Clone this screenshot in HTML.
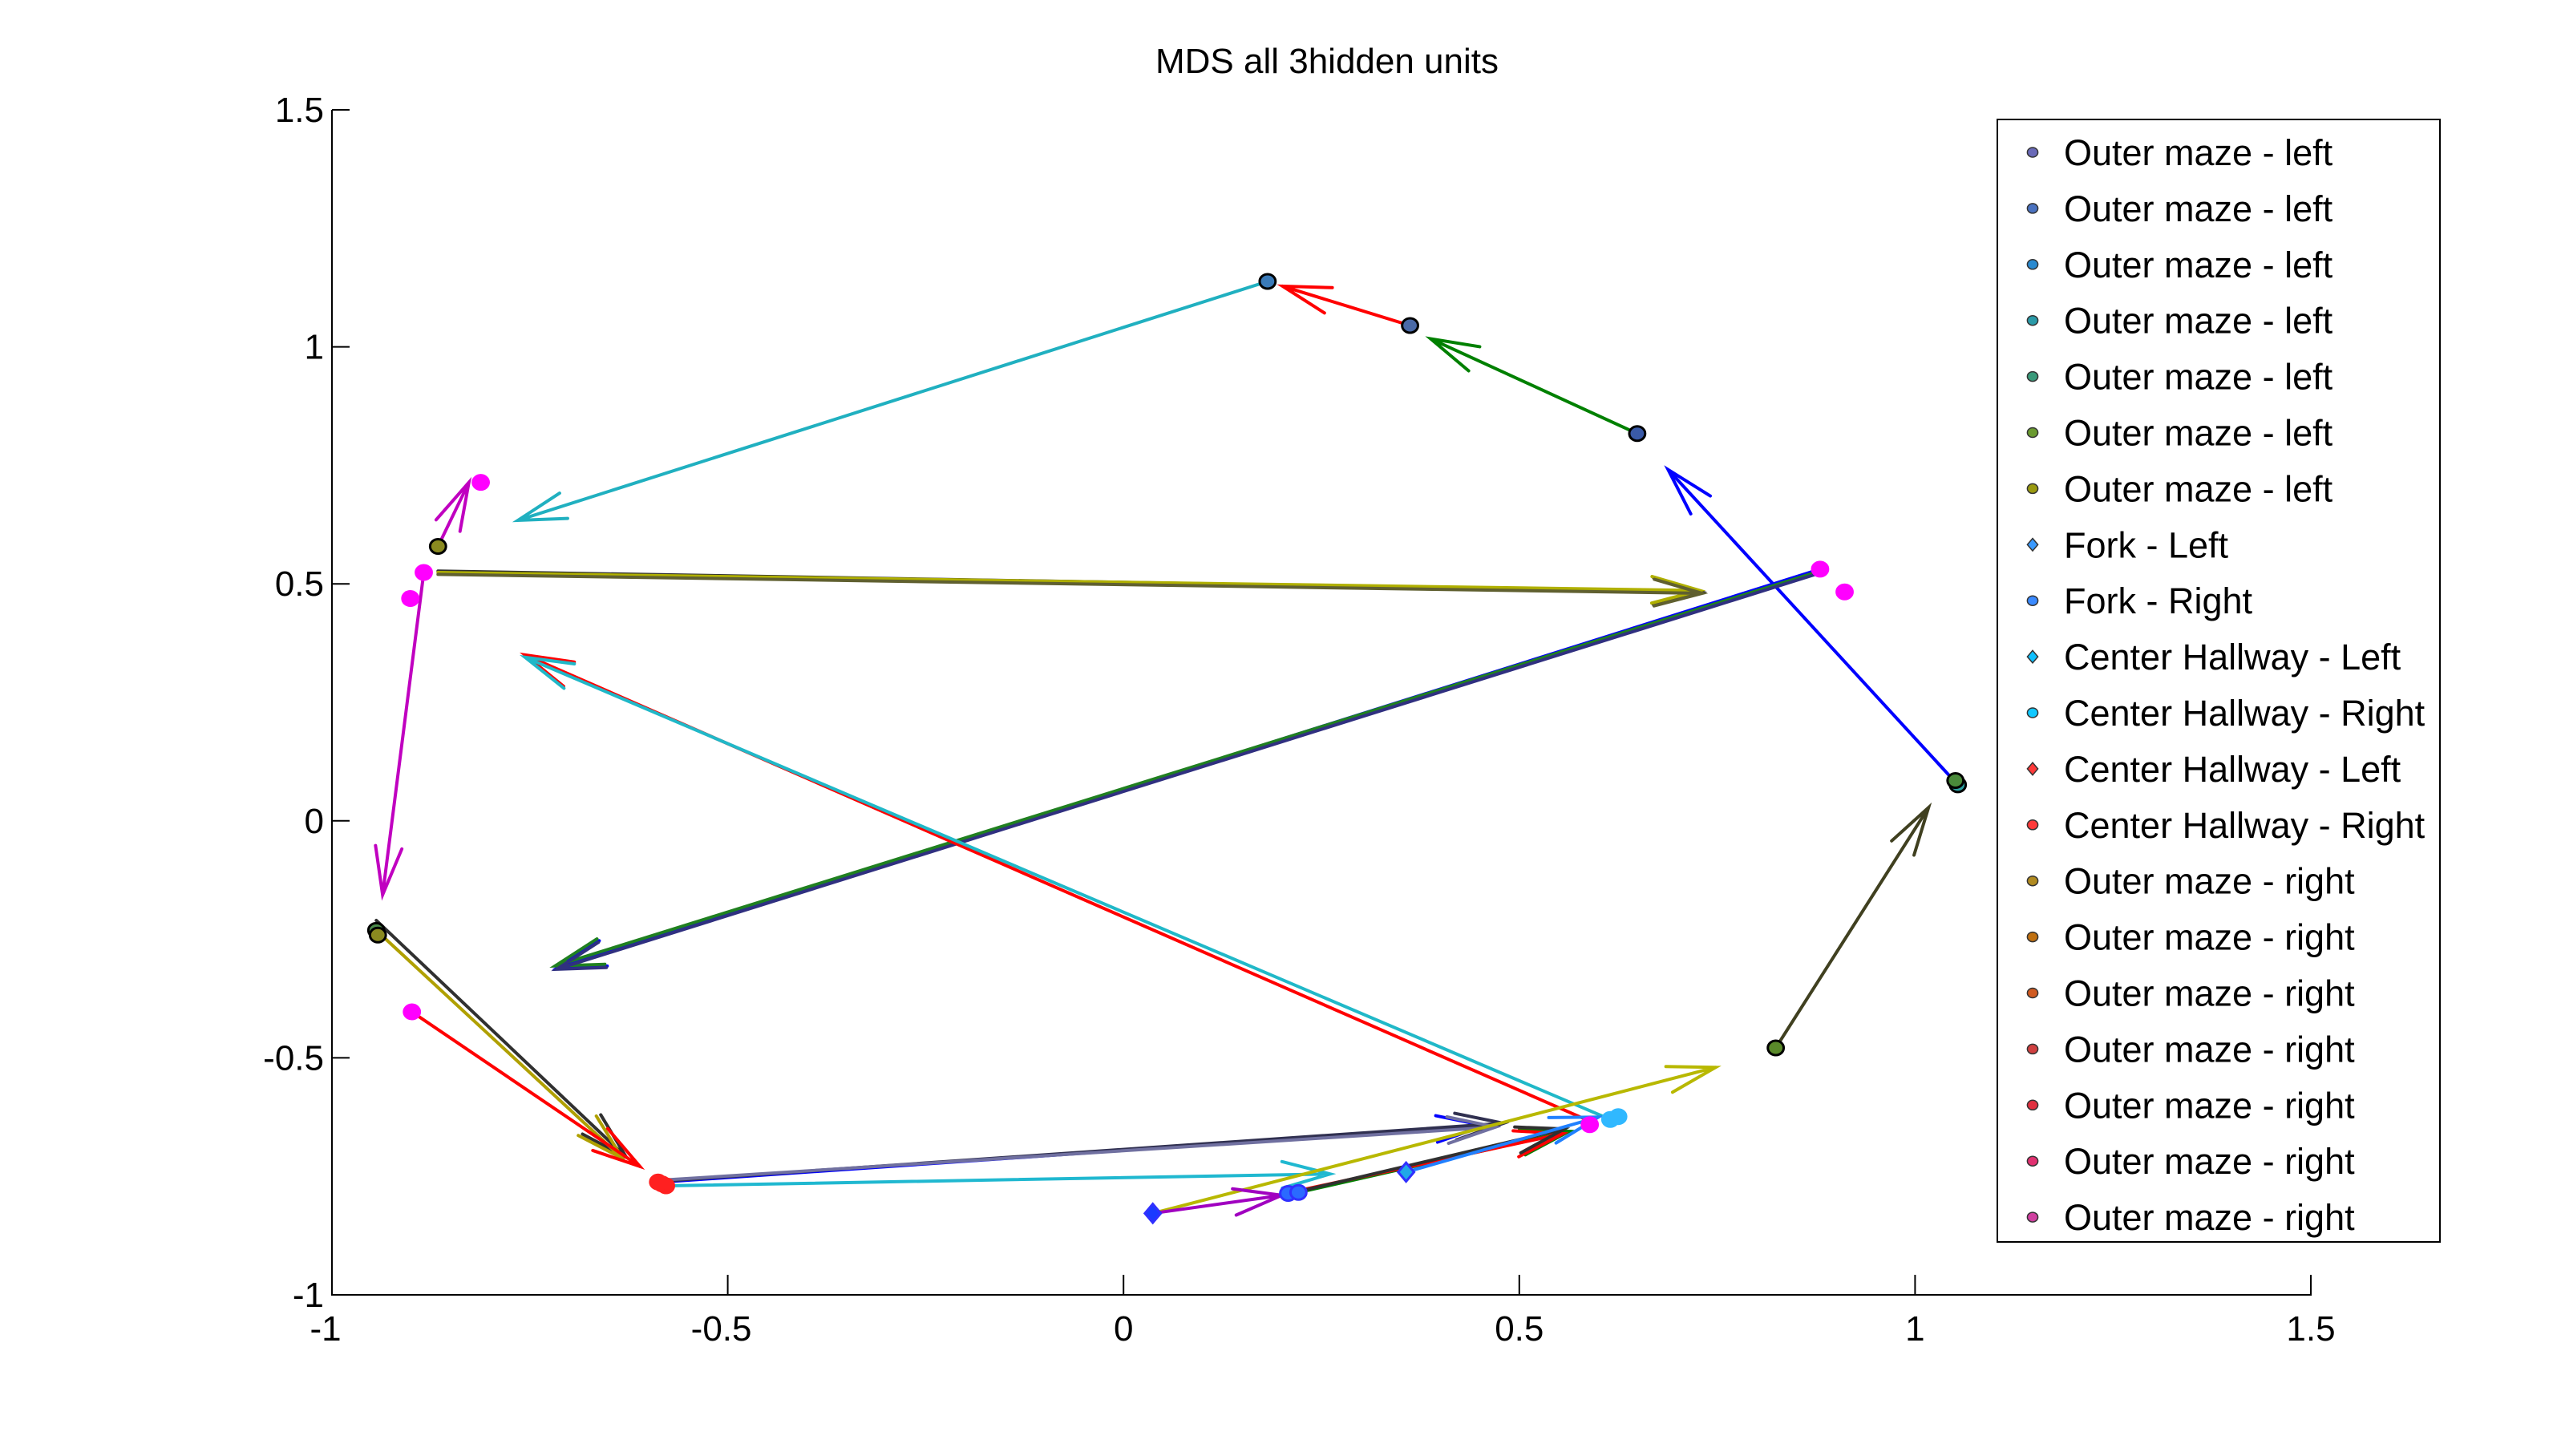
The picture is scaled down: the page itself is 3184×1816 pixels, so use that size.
<!DOCTYPE html>
<html><head><meta charset="utf-8"><style>
html,body{margin:0;padding:0;background:#fff}
svg{display:block}
text{font-family:"Liberation Sans",Arial,sans-serif;fill:#000}
</style></head><body>
<svg id="chart" width="3184" height="1816" viewBox="0 0 3184 1816" xmlns="http://www.w3.org/2000/svg">
<rect x="0" y="0" width="3184" height="1816" fill="#fff"/>
<text x="1655" y="91" font-size="44" text-anchor="middle">MDS all 3hidden units</text>
<g id="axes"></g>
<g id="arrows"></g>
<g id="points"></g>
<g id="legend"></g>
</svg>
<script>
const xTicks = [-1, -0.5, 0, 0.5, 1, 1.5];
const yTicks = [-1, -0.5, 0, 0.5, 1, 1.5];
const xTickLabels = ["-1", "-0.5", "0", "0.5", "1", "1.5"];
const yTickLabels = ["-1", "-0.5", "0", "0.5", "1", "1.5"];

const pointX = [0.182, 0.362, 0.649, 1.054, 1.051, 0.824, 0.880, 0.911, -0.866, -0.812, -0.884, -0.901, -0.944, -0.942, -0.899, -0.588, -0.578, -0.583, 0.037, 0.208, 0.221, 0.357, 0.589, 0.615, 0.625];
const pointY = [1.138, 1.045, 0.817, 0.076, 0.085, -0.479, 0.531, 0.483, 0.579, 0.714, 0.524, 0.469, -0.231, -0.241, -0.403, -0.762, -0.770, -0.766, -0.828, -0.786, -0.784, -0.741, -0.641, -0.630, -0.624];
const pointFill = ["#3a7ab8","#4a6aa8","#3a5aa8","#2aa0a0","#4a8a3a","#5a8a2a","#ff00ff","#ff00ff","#8a8a20","#ff00ff","#ff00ff","#ff00ff","#4a8a4a","#8a8a20","#ff00ff","#ff2020","#ff2020","#ff2020","#1a3aff","#2a6aff","#2a6aff","#20a8e8","#ff00ff","#30b8ff","#30b8ff"];
const pointShape = ["o","o","o","o","o","o","o","o","o","o","o","o","o","o","o","o","o","o","d","o","o","d","o","o","o"];

const arrX0 = [0.362, 0.649, 1.054, 0.824, 0.182, -0.866, -0.866, -0.866, 0.880, 0.880, 0.880, 0.595, 0.615, -0.884, -0.866, -0.944, -0.944, -0.899, -0.583, -0.583, -0.583, -0.578, 0.037, 0.037, 0.221, 0.221, 0.221, 0.357];
const arrY0 = [1.045, 0.817, 0.076, -0.479, 1.138, 0.527, 0.524, 0.520, 0.531, 0.527, 0.523, -0.638, -0.630, 0.524, 0.579, -0.210, -0.231, -0.403, -0.762, -0.760, -0.758, -0.770, -0.828, -0.828, -0.784, -0.780, -0.782, -0.741];
const arrX1 = [0.201, 0.388, 0.688, 1.017, -0.765, 0.730, 0.728, 0.731, -0.715, -0.718, -0.716, -0.756, -0.756, -0.936, -0.827, -0.628, -0.633, -0.611, 0.456, 0.480, 0.470, 0.261, 0.748, 0.200, 0.563, 0.555, 0.557, 0.600];
const arrY1 = [1.128, 1.017, 0.741, 0.028, 0.634, 0.483, 0.486, 0.480, -0.310, -0.306, -0.313, 0.350, 0.345, -0.156, 0.714, -0.710, -0.712, -0.729, -0.643, -0.638, -0.646, -0.745, -0.520, -0.790, -0.655, -0.660, -0.650, -0.625];
const arrColor = ["#ff0000","#008000","#0000ff","#404020","#20b0c0","#303030","#b0b000","#606030","#0000ff","#208020","#303080","#ff0000","#20b8c8","#c000c0","#c000c0","#303030","#b0a000","#ff0000","#0000ff","#303050","#7070a0","#20b8d0","#b8b800","#a000c0","#008000","#ff0000","#303030","#2080ff"];

const legendLabels = ["Outer maze - left","Outer maze - left","Outer maze - left","Outer maze - left","Outer maze - left","Outer maze - left","Outer maze - left","Fork - Left","Fork - Right","Center Hallway - Left","Center Hallway - Right","Center Hallway - Left","Center Hallway - Right","Outer maze - right","Outer maze - right","Outer maze - right","Outer maze - right","Outer maze - right","Outer maze - right","Outer maze - right"];
const legendColors = ["#6a6ab8","#4a72c0","#2a8ad0","#2a9aa8","#3a9a7a","#6a9a30","#9a9a10","#3a9aff","#3a8aff","#10c0ff","#10c8ff","#ff3a3a","#ff3a3a","#b08a20","#c07010","#d05a20","#d04040","#e03040","#e03070","#d040a0"];
const legendShapes = ["o","o","o","o","o","o","o","d","o","d","o","d","o","o","o","o","o","o","o","o"];

const NS = "http://www.w3.org/2000/svg";
const L = 414, R = 2882, T = 137, B = 1615;
const xMin = -1, xMax = 1.5, yMin = -1, yMax = 1.5;
function sx(v){ return L + (v - xMin) / (xMax - xMin) * (R - L); }
function sy(v){ return B - (v - yMin) / (yMax - yMin) * (B - T); }
function mk(tag, attrs, parent){ const e = document.createElementNS(NS, tag); for (const k in attrs) e.setAttribute(k, attrs[k]); parent.appendChild(e); return e; }

const axes = document.getElementById("axes");
const xAxisLine = mk("path", {d:`M${L},${T} L${L},${B} L${R},${B} L${R},${B-22}`, fill:"none", stroke:"#000", "stroke-width":2}, axes);


xTicks.forEach((v, i) => {
  const t = mk("line", {x1:sx(v), x2:sx(v), y1:B, y2:B-25, stroke:"#000", "stroke-width":2}, axes);
  
  
  const lb = mk("text", {x:sx(v) - (v < 0 ? 8 : 0), y:B+57, "font-size":44, "text-anchor":"middle"}, axes);
  lb.textContent = xTickLabels[i];
  
  
});
yTicks.forEach((v, i) => {
  const t = mk("line", {x1:L, x2:L+22, y1:sy(v), y2:sy(v), stroke:"#000", "stroke-width":2}, axes);
  
  
  const lb = mk("text", {x:L-10, y:sy(v)+15, "font-size":44, "text-anchor":"end"}, axes);
  lb.textContent = yTickLabels[i];
  
  
});

const arrows = document.getElementById("arrows");
arrX0.forEach((_, i) => {
  const x0 = sx(arrX0[i]), y0 = sy(arrY0[i]), x1 = sx(arrX1[i]), y1 = sy(arrY1[i]);
  const ang = Math.atan2(y1 - y0, x1 - x0), hl = 62, ha = 0.27;
  const ax = x1 - hl*Math.cos(ang - ha), ay = y1 - hl*Math.sin(ang - ha);
  const bx = x1 - hl*Math.cos(ang + ha), by = y1 - hl*Math.sin(ang + ha);
  const p = mk("path", {d:`M${x0},${y0} L${x1},${y1} M${ax},${ay} L${x1},${y1} L${bx},${by}`, fill:"none", stroke:arrColor[i], "stroke-width":4, "stroke-linecap":"round"}, arrows);
  
  
});

function marker(parent, shape, cx, cy, r, fill, stroke, sw){
  if (shape === "d") return mk("polygon", {points:`${cx},${cy-r*1.3} ${cx+r*1.1},${cy} ${cx},${cy+r*1.3} ${cx-r*1.1},${cy}`, fill:fill, stroke:stroke, "stroke-width":sw}, parent);
  return mk("ellipse", {cx:cx, cy:cy, rx:r*1.1, ry:r, fill:fill, stroke:stroke, "stroke-width":sw}, parent);
}
const points = document.getElementById("points");
pointX.forEach((_, i) => {
  let stroke = "#000";
  if (pointFill[i] === "#ff00ff" || pointFill[i] === "#ff2020" || pointFill[i] === "#30b8ff") stroke = pointFill[i];
  else if (pointShape[i] === "d" || pointFill[i] === "#2a6aff") stroke = "#3030ff";
  const m = marker(points, pointShape[i], sx(pointX[i]), sy(pointY[i]), 9, pointFill[i], stroke, 3);
  
  
});

const legend = document.getElementById("legend");
const box = mk("rect", {x:2491, y:149, width:552, height:1400, fill:"#fff", stroke:"#000", "stroke-width":2}, legend);


legendLabels.forEach((lab, i) => {
  const cy = 190 + i * 69.9;
  const g = mk("g", {}, legend);
  
  
  marker(g, legendShapes[i], 2535, cy, 6, legendColors[i], "#333", 1.5);
  const t = mk("text", {x:2574, y:cy+16, "font-size":45}, g);
  t.textContent = lab;
});
</script>
</body></html>
